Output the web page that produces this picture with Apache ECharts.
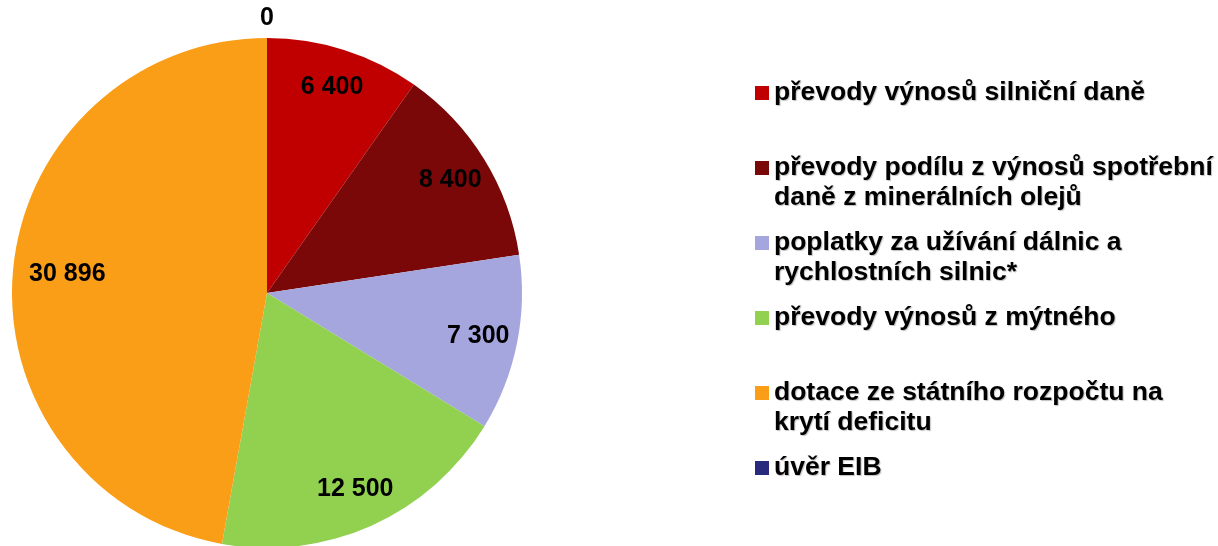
<!DOCTYPE html>
<html>
<head>
<meta charset="utf-8">
<script src="https://cdn.jsdelivr.net/npm/echarts@6/dist/echarts.min.js"></script>
<style>
  html, body { margin: 0; padding: 0; background: #fff; }
  #chart { width: 1218px; height: 546px; }
</style>
</head>
<body>
<div id="chart"></div>
<script>
// data
var names = [
  'převody výnosů silniční daně',
  'převody podílu z výnosů spotřební\ndaně z minerálních olejů',
  'poplatky za užívání dálnic a\nrychlostních silnic*',
  'převody výnosů z mýtného',
  'dotace ze státního rozpočtu na\nkrytí deficitu',
  'úvěr EIB'
]
var values = [6400, 8400, 7300, 12500, 30896, 0]
var colors = ['#c00000', '#7a0808', '#a6a6de', '#92d050', '#fa9e17', '#2a2a7c']

function fmt(v) {
  return String(v).replace(/\B(?=(\d{3})+(?!\d))/g, ' ')
}

var pieData = names.map(function (n, i) {
  return { name: n, value: values[i], itemStyle: { color: colors[i] } }
})
var ghostData = names.map(function (n, i) {
  var d = { name: n, value: values[i] }
  // the big slice's label sits a bit further in
  if (i === 4) d.label = { padding: [0, 0, 0, 30] }
  return d
})

var labelFont = {
  fontFamily: 'Liberation Sans, Arial, sans-serif',
  fontWeight: 'bold',
  fontSize: 25,
  color: '#000'
}

var myChart = echarts.init(document.getElementById('chart'))
var option = {
  animation: false,
  legend: {
    orient: 'vertical',
    left: 755,
    top: 48,
    padding: 0,
    itemWidth: 14,
    itemHeight: 14,
    itemGap: -15,
    icon: 'rect',
    selectedMode: false,
    data: names,
    // three lines per item: blank line on top so the first real line sits next to the square
    formatter: function (name) {
      return ' \n' + (name.indexOf('\n') >= 0 ? name : name + '\n ')
    },
    textStyle: {
      fontFamily: 'Liberation Sans, Arial, sans-serif',
      fontWeight: 'bold',
      fontSize: 26.5,
      lineHeight: 30,
      color: '#000',
      backgroundColor: 'rgba(0,0,0,0)',
      textShadowColor: 'rgba(0,0,0,0.25)',
      textShadowOffsetX: 1,
      textShadowOffsetY: 1,
      textShadowBlur: 1
    }
  },
  series: [
    {
      // the pie itself
      type: 'pie',
      center: [267, 293],
      radius: 255,
      startAngle: 90,
      clockwise: true,
      label: { show: false },
      labelLine: { show: false },
      emphasis: { disabled: true },
      data: pieData
    },
    {
      // transparent ring, only to put the value labels near the rim
      type: 'pie',
      center: [267, 293],
      radius: [170, 255],
      startAngle: 90,
      clockwise: true,
      silent: true,
      itemStyle: { color: 'rgba(0,0,0,0)' },
      label: Object.assign({
        show: true,
        position: 'inside',
        formatter: function (p) { return p.value === 0 ? '' : fmt(p.value) }
      }, labelFont),
      labelLine: { show: false },
      data: ghostData
    },
    {
      // outer ring for the zero slice label
      type: 'pie',
      center: [267, 293],
      radius: [258, 286],
      startAngle: 90,
      clockwise: true,
      silent: true,
      itemStyle: { color: 'rgba(0,0,0,0)' },
      label: Object.assign({
        show: true,
        position: 'inside',
        formatter: function (p) { return p.value === 0 ? fmt(p.value) : '' }
      }, labelFont),
      labelLine: { show: false },
      data: ghostData
    }
  ]
}
myChart.setOption(option)
</script>
</body>
</html>
